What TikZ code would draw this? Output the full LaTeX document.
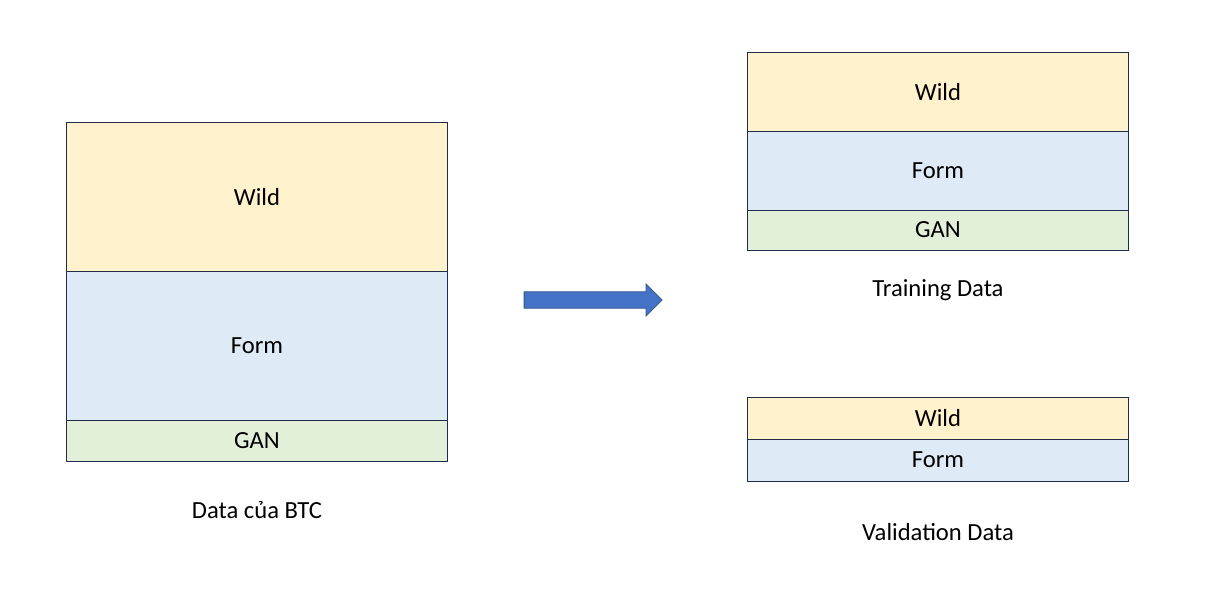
\documentclass[tikz,border=0pt]{standalone}
\usepackage{fontspec}
\setmainfont{Carlito}
\usetikzlibrary{positioning,shapes.arrows}
\definecolor{wildfill}{HTML}{FFF2CC}
\definecolor{formfill}{HTML}{DEEBF7}
\definecolor{ganfill}{HTML}{E2F0D9}
\definecolor{boxline}{HTML}{1F2D4A}
\definecolor{arrowfill}{HTML}{4472C4}
\definecolor{arrowline}{HTML}{2F528F}
\begin{document}
\begin{tikzpicture}[x=0.025cm, y=-0.025cm,
	part/.style={draw=boxline, line width=0.7pt, outer sep=0pt, inner sep=0pt,
		minimum width=9.5cm, font=\fontsize{17.5}{20}\selectfont},
	wild/.style={part, fill=wildfill},
	form/.style={part, fill=formfill},
	gan/.style={part, fill=ganfill},
	caption/.style={font=\fontsize{17.5}{20}\selectfont}]

\useasboundingbox (0,0) rectangle (1218,615);

% Data cua BTC
\node[wild, minimum height=3.7cm] (bWild) at (257,197) {Wild};
\node[form, minimum height=3.725cm, below=0pt of bWild] (bForm) {Form};
\node[gan, minimum height=1.025cm, below=0pt of bForm] (bGan) {GAN};
\node[caption] (bCap) at (257,510) {Data của BTC};

% Mui ten
\node[single arrow, draw=arrowline, fill=arrowfill, line width=0.6pt,
	inner xsep=0pt, inner ysep=0.195cm, minimum height=3.45cm,
	single arrow head extend=0.1975cm] (arr) at (589,300) {};

% Training Data
\node[wild, minimum height=1.95cm] (tWild) at (938,92) {Wild};
\node[form, minimum height=1.975cm, below=0pt of tWild] (tForm) {Form};
\node[gan, minimum height=1.0cm, below=0pt of tForm] (tGan) {GAN};
\node[caption] (tCap) at (938,290) {Training Data};

% Validation Data
\node[wild, minimum height=1.025cm] (vWild) at (938,418.5) {Wild};
\node[form, minimum height=1.05cm, below=0pt of vWild] (vForm) {Form};
\node[caption] (vCap) at (938,532) {Validation Data};

\end{tikzpicture}
\end{document}
